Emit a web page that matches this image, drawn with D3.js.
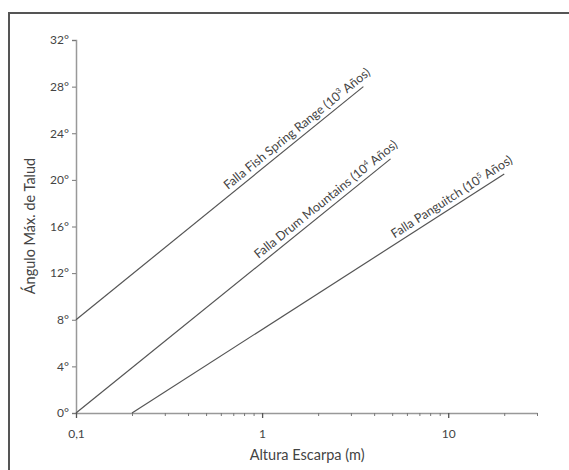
<!DOCTYPE html>
<html>
<head>
<meta charset="utf-8">
<script src="https://cdn.jsdelivr.net/npm/d3@7"></script>
<style>
  body { margin: 0; background: #fff; }
  text { font-family: Lato, "Open Sans", sans-serif; fill: #444; }
</style>
</head>
<body>
<div id="chart"></div>
<script>
// fault lines (scarp height m, max slope angle deg)
var faultNames = ["Falla Fish Spring Range", "Falla Drum Mountains", "Falla Panguitch"];
var faultAges = ["3", "4", "5"];
var startHeight = [0.1, 0.1, 0.2];
var startAngle = [8, 0, 0];
var endHeight = [3.5, 4.9, 20];
var endAngle = [28, 21.8, 20.5];

var yTicks = [0, 4, 8, 12, 16, 20, 24, 28, 32];
var xMajor = [0.1, 1, 10];
var xMajorLabels = ["0,1", "1", "10"];
var xMinor = [0.2, 0.3, 0.4, 0.5, 0.6, 0.7, 0.8, 0.9, 2, 3, 4, 5, 6, 7, 8, 9, 20, 30];

var _width = 569, _height = 470,
  _margins = {top: 40, left: 76, right: 32, bottom: 57};

var svg = d3.select("#chart").append("svg")
  .attr("width", _width)
  .attr("height", _height);

// frame (cropped on the right and bottom)
svg.append("rect")
  .attr("x", 9).attr("y", 13)
  .attr("width", 600).attr("height", 500)
  .attr("fill", "#fff")
  .attr("stroke", "#555")
  .attr("stroke-width", 2);

var x = d3.scaleLog()
  .domain([0.1, 30])
  .range([_margins.left, _width - _margins.right]);

var y = d3.scaleLinear()
  .domain([0, 32])
  .range([_height - _margins.bottom, _margins.top]);

var yAxis = d3.axisLeft(y)
  .tickValues(yTicks)
  .tickSize(4)
  .tickSizeOuter(4)
  .tickFormat(function (d) { return d + "°"; });

var yG = svg.append("g")
  .attr("class", "y axis")
  .attr("transform", "translate(" + _margins.left + ",0)")
  .call(yAxis);

var xAxisMinor = d3.axisBottom(x)
  .tickValues(xMinor)
  .tickSize(3)
  .tickSizeOuter(0)
  .tickFormat("");

var xG = svg.append("g")
  .attr("class", "x axis")
  .attr("transform", "translate(0," + (_height - _margins.bottom) + ")")
  .call(xAxisMinor);

var xAxisMajor = d3.axisBottom(x)
  .tickValues(xMajor)
  .tickSize(5)
  .tickSizeOuter(0)
  .tickPadding(11)
  .tickFormat(function (d, i) { return xMajorLabels[i]; });

var xG2 = svg.append("g")
  .attr("class", "x axis major")
  .attr("transform", "translate(0," + (_height - _margins.bottom) + ")")
  .call(xAxisMajor);
xG2.select(".domain").remove();

svg.selectAll(".axis .domain").attr("stroke", "#999").attr("stroke-width", 1.5);
svg.selectAll(".axis .tick line").attr("stroke", "#777");
svg.selectAll(".x.major .tick line").attr("stroke", "#555").attr("stroke-width", 1.3);
svg.selectAll(".axis text")
  .style("font-size", "12px")
  .style("font-family", "Lato, sans-serif")
  .attr("fill", "#444");
yG.selectAll("text").attr("x", -7);

// fault lines
var faults = faultNames.map(function (n, i) {
  return {name: n, age: faultAges[i],
    x0: startHeight[i], y0: startAngle[i], x1: endHeight[i], y1: endAngle[i]};
});

var lineG = svg.append("g").attr("class", "body");

lineG.selectAll("line.fault")
  .data(faults)
  .enter().append("line")
  .attr("class", "fault")
  .attr("x1", function (d) { return x(d.x0); })
  .attr("y1", function (d) { return y(d.y0); })
  .attr("x2", function (d) { return x(d.x1); })
  .attr("y2", function (d) { return y(d.y1); })
  .attr("stroke", "#555")
  .attr("stroke-width", 1.2);

var labels = lineG.selectAll("text.fault-label")
  .data(faults)
  .enter().append("text")
  .attr("class", "fault-label")
  .attr("text-anchor", "end")
  .style("font-size", "12.5px")
  .attr("transform", function (d) {
    var dx = x(d.x1) - x(d.x0), dy = y(d.y1) - y(d.y0);
    var len = Math.sqrt(dx * dx + dy * dy);
    var ux = dx / len, uy = dy / len;
    // push a bit past the line end and lift above it
    var px = x(d.x1) + ux * 14 + uy * 5,
      py = y(d.y1) + uy * 14 - ux * 5;
    var ang = Math.atan2(dy, dx) * 180 / Math.PI;
    return "translate(" + px + "," + py + ") rotate(" + ang + ")";
  });

labels.append("tspan").text(function (d) { return d.name + " (10"; });
labels.append("tspan")
  .attr("dy", -5)
  .style("font-size", "7.5px")
  .text(function (d) { return d.age; });
labels.append("tspan")
  .attr("dy", 5)
  .text(" Años)");

// axis titles
svg.append("text")
  .attr("x", x(1) + 45)
  .attr("y", 460)
  .attr("text-anchor", "middle")
  .style("font-size", "14.5px")
  .text("Altura Escarpa (m)");

svg.append("text")
  .attr("transform", "translate(35," + 226 + ") rotate(-90)")
  .attr("text-anchor", "middle")
  .style("font-size", "14.5px")
  .text("Ángulo Máx. de Talud");
</script>
</body>
</html>
